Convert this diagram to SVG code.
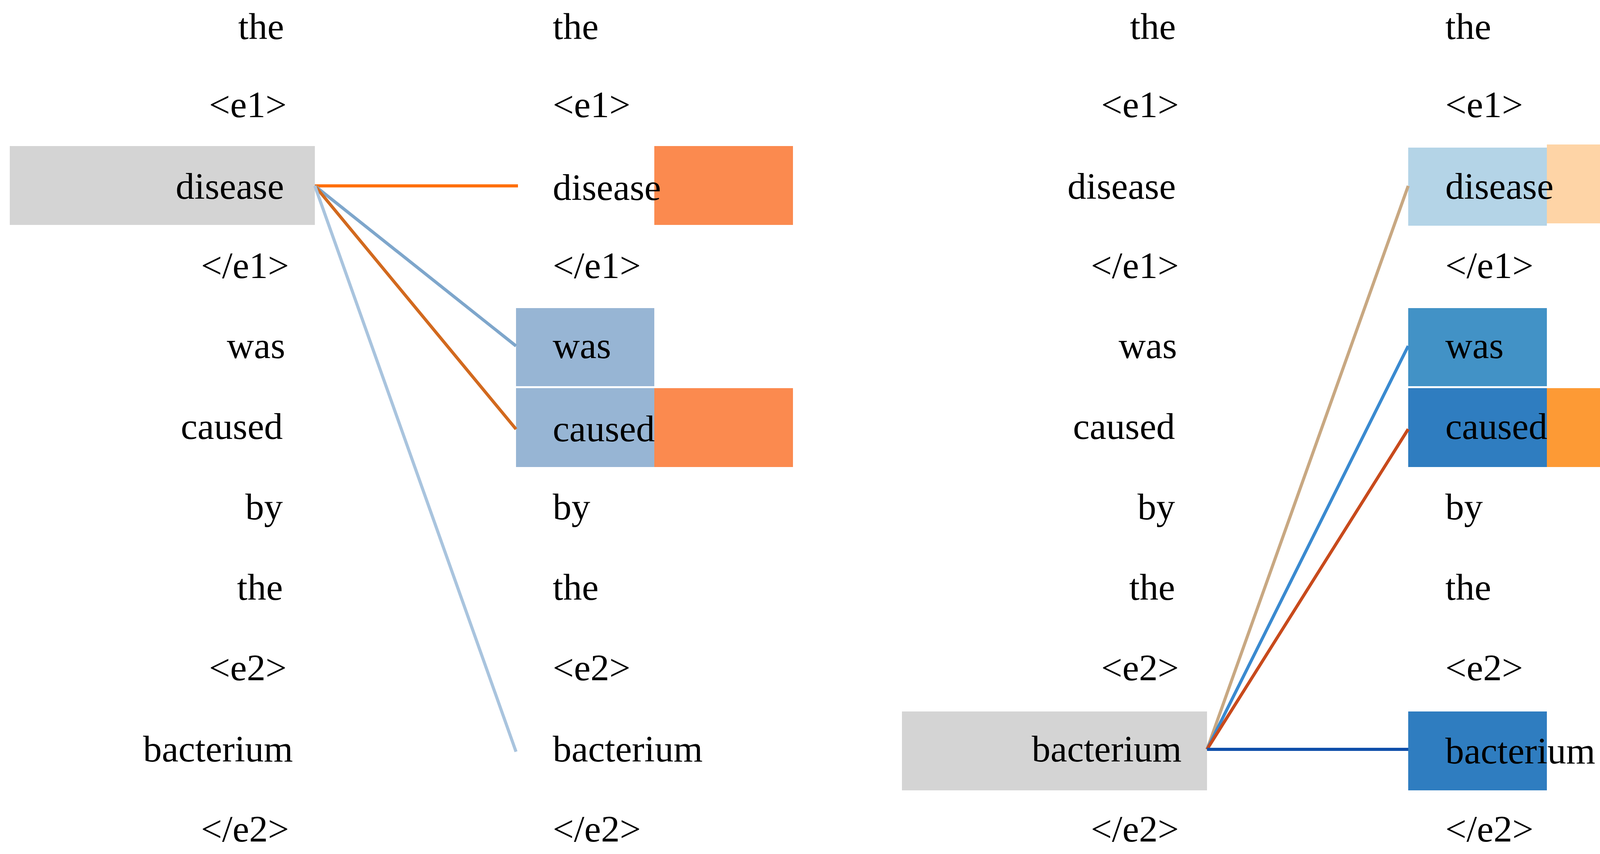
<svg xmlns="http://www.w3.org/2000/svg" width="4342" height="2187" viewBox="0 0 4342 2187">
<style>
text{font-family:"Liberation Serif","Times New Roman",serif;font-size:96px;fill:#000}
.r{text-anchor:end}
.c line{stroke-width:8;fill:none}
</style>
<rect width="4342" height="2187" fill="#fff"/>
<g id="boxes">
<rect x="25" y="374" width="781" height="202" fill="#d4d4d4"/>
<rect x="1675" y="374" width="355" height="202" fill="#fb8a4f"/>
<rect x="1321" y="789" width="354" height="200" fill="#97b5d4"/>
<rect x="1321" y="994" width="354" height="202" fill="#97b5d4"/>
<rect x="1675" y="994" width="355" height="202" fill="#fb8a4f"/>
<rect x="2309" y="1822" width="781" height="202" fill="#d4d4d4"/>
<rect x="3605" y="378" width="355" height="200" fill="#b4d4e7"/>
<rect x="3960" y="370" width="354" height="202" fill="#fed4a6"/>
<rect x="3605" y="789" width="355" height="200" fill="#4292c6"/>
<rect x="3605" y="994" width="355" height="202" fill="#2f7dc0"/>
<rect x="3960" y="994" width="354" height="202" fill="#fd9a35"/>
<rect x="3605" y="1822" width="355" height="202" fill="#2f7dc0"/>
</g>
<g id="connectors" class="c">
<line x1="806" y1="476" x2="1326" y2="476" stroke="#ff6f0a"/>
<line x1="806" y1="476" x2="1321" y2="886" stroke="#7ea6cb"/>
<line x1="806" y1="476" x2="1321" y2="1099" stroke="#d2691e"/>
<line x1="806" y1="476" x2="1321" y2="1925" stroke="#a9c4de"/>
<line x1="3090" y1="1919" x2="3605" y2="476" stroke="#c8a882"/>
<line x1="3090" y1="1919" x2="3605" y2="886" stroke="#3a8ad0"/>
<line x1="3090" y1="1919" x2="3605" y2="1099" stroke="#c84a1c"/>
<line x1="3090" y1="1919" x2="3605" y2="1919" stroke="#0f4faa"/>
</g>
<g id="col1" class="r">
<text class="r" x="727" y="100">the</text>
<text class="r" x="734" y="300">&lt;e1&gt;</text>
<text class="r" x="727" y="509">disease</text>
<text class="r" x="740" y="712">&lt;/e1&gt;</text>
<text class="r" x="730" y="917">was</text>
<text class="r" x="724" y="1124">caused</text>
<text class="r" x="724" y="1330">by</text>
<text class="r" x="724" y="1536">the</text>
<text class="r" x="734" y="1742">&lt;e2&gt;</text>
<text class="r" x="750" y="1950">bacterium</text>
<text class="r" x="740" y="2155">&lt;/e2&gt;</text>
</g>
<g id="col2">
<text x="1415" y="100">the</text>
<text x="1415" y="300">&lt;e1&gt;</text>
<text x="1415" y="512">disease</text>
<text x="1415" y="712">&lt;/e1&gt;</text>
<text x="1415" y="917">was</text>
<text x="1415" y="1130">caused</text>
<text x="1415" y="1330">by</text>
<text x="1415" y="1536">the</text>
<text x="1415" y="1742">&lt;e2&gt;</text>
<text x="1415" y="1950">bacterium</text>
<text x="1415" y="2155">&lt;/e2&gt;</text>
</g>
<g id="col3">
<text class="r" x="3010" y="100">the</text>
<text class="r" x="3018" y="300">&lt;e1&gt;</text>
<text class="r" x="3010" y="509">disease</text>
<text class="r" x="3018" y="712">&lt;/e1&gt;</text>
<text class="r" x="3013" y="917">was</text>
<text class="r" x="3008" y="1124">caused</text>
<text class="r" x="3008" y="1330">by</text>
<text class="r" x="3008" y="1536">the</text>
<text class="r" x="3018" y="1742">&lt;e2&gt;</text>
<text class="r" x="3025" y="1950">bacterium</text>
<text class="r" x="3018" y="2155">&lt;/e2&gt;</text>
</g>
<g id="col4">
<text x="3700" y="100">the</text>
<text x="3700" y="300">&lt;e1&gt;</text>
<text x="3700" y="509">disease</text>
<text x="3700" y="712">&lt;/e1&gt;</text>
<text x="3700" y="917">was</text>
<text x="3700" y="1124">caused</text>
<text x="3700" y="1330">by</text>
<text x="3700" y="1536">the</text>
<text x="3700" y="1742">&lt;e2&gt;</text>
<text x="3700" y="1955">bacterium</text>
<text x="3700" y="2155">&lt;/e2&gt;</text>
</g>
</svg>
